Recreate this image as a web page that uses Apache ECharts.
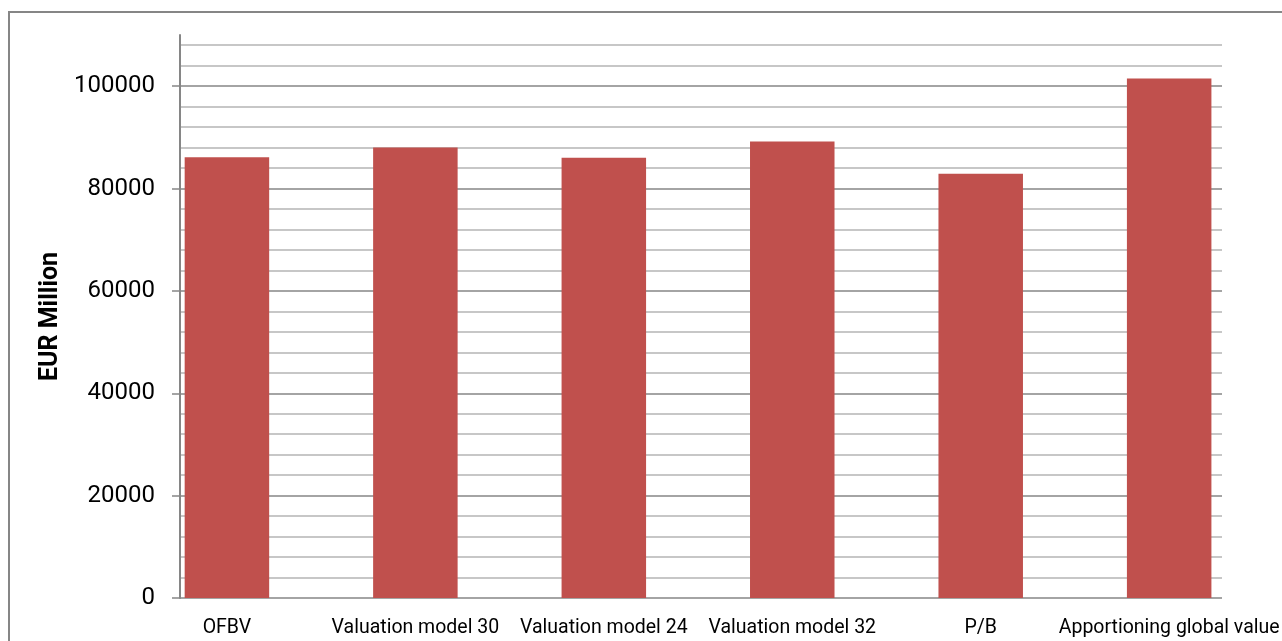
<!DOCTYPE html>
<html>
<head>
<meta charset="utf-8">
<script src="https://cdn.jsdelivr.net/npm/echarts@6/dist/echarts.min.js"></script>
<style>
html,body{margin:0;padding:0;background:#fff;}
#chart{width:1282px;height:641px;}
</style>
</head>
<body>
<div id="chart"></div>
<script>
const categories = ['OFBV', 'Valuation model 30', 'Valuation model 24', 'Valuation model 32', 'P/B', 'Apportioning global value'];
const values = [86100, 88000, 86000, 89200, 82900, 101500];
const yTickLabels = [0, 20000, 40000, 60000, 80000, 100000];
const yMax = 110000;
const yMinorStep = 4000;
const yTitle = 'EUR Million';

const chart = echarts.init(document.getElementById('chart'));
const majorColor = '#868686';
const minorColor = '#b5b5b5';
const plotGrid = { left: 180, right: 60, top: 35, bottom: 43, containLabel: false };

chart.setOption({
  animation: false,
  backgroundColor: '#ffffff',
  graphic: [{
    type: 'rect',
    shape: { x: 9, y: 12, width: 1400, height: 800 },
    style: { fill: 'none', stroke: majorColor, lineWidth: 2 },
    silent: true,
    z: 100
  }],
  grid: [
    plotGrid,
    { left: 132.7, right: 11.7, top: 35, bottom: 43, containLabel: false },
    Object.assign({}, plotGrid)
  ],
  xAxis: [
    { gridIndex: 0, type: 'value', min: 0, max: 1, show: false },
    {
      gridIndex: 1, type: 'category', data: categories,
      axisLine: { show: false }, axisTick: { show: false },
      axisLabel: {
        interval: 0, margin: 20, color: '#000',
        fontFamily: 'Roboto', fontSize: 19.5
      }
    },
    { gridIndex: 2, type: 'value', min: 0, max: 1, show: false }
  ],
  yAxis: [
    {
      gridIndex: 0, type: 'value', min: 0, max: yMax, interval: yMinorStep,
      axisLine: { show: true, lineStyle: { color: majorColor, width: 2 } },
      axisTick: { show: false },
      axisLabel: { show: false },
      splitLine: {
        show: true, showMinLine: true, showMaxLine: false,
        lineStyle: { color: [majorColor, minorColor, minorColor, minorColor, minorColor], width: 1.5 }
      }
    },
    { gridIndex: 1, type: 'value', min: 0, max: yMax, show: false, splitLine: { show: false } },
    {
      gridIndex: 2, type: 'value', min: 0, max: yMax,
      name: yTitle, nameLocation: 'middle', nameGap: 108,
      nameTextStyle: { fontFamily: 'Roboto', fontWeight: 'bold', fontSize: 25, color: '#000' },
      axisLine: { show: false },
      axisTick: { show: true, inside: false, length: 8, customValues: yTickLabels,
        lineStyle: { color: majorColor, width: 1.5 } },
      axisLabel: { show: true, customValues: yTickLabels, margin: 25,
        formatter: function (v) { return String(v); },
        fontFamily: 'Roboto', fontSize: 24, color: '#000' },
      splitLine: { show: false }
    }
  ],
  series: [{
    type: 'bar',
    xAxisIndex: 1, yAxisIndex: 1,
    data: values,
    barWidth: 84.5,
    itemStyle: { color: '#C0504D' },
    z: 5
  }]
});
</script>
</body>
</html>
